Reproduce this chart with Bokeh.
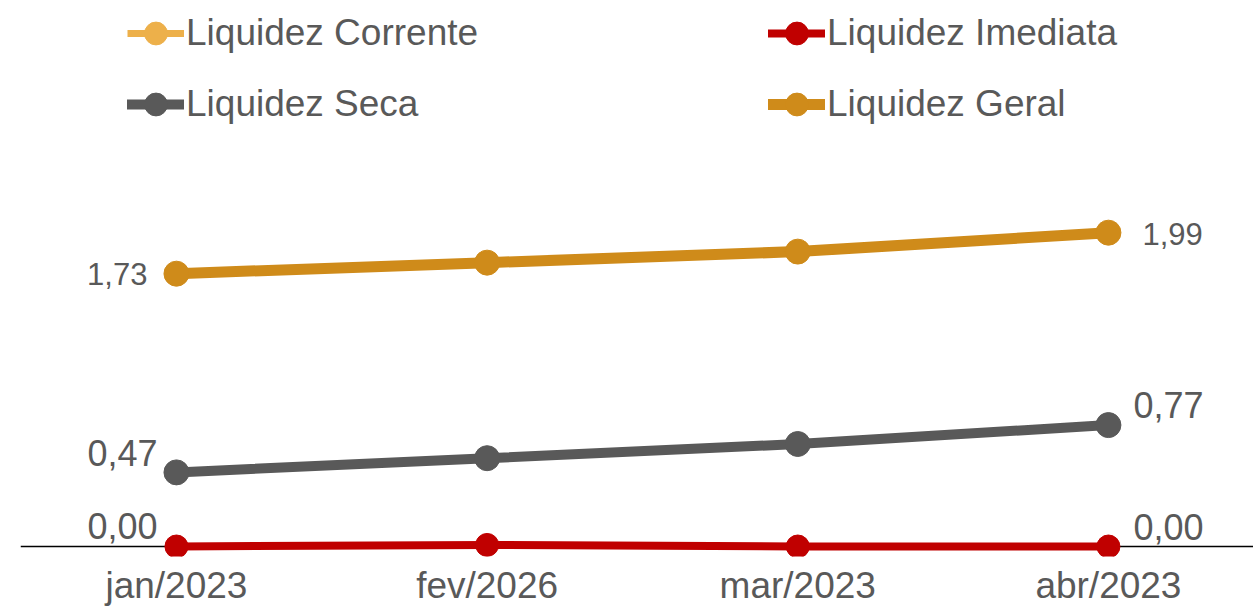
from bokeh.plotting import figure
from bokeh.models import (Range1d, FixedTicker, Span, Legend, LegendItem,
                          ColumnDataSource)
from bokeh.core.properties import value
from bokeh.embed import file_html
from bokeh.resources import INLINE

# ---- data ----
months = ["jan/2023", "fev/2026", "mar/2023", "abr/2023"]
liquidez_corrente = [1.73, 1.80, 1.87, 1.99]
liquidez_imediata = [0.00, 0.01, 0.00, 0.00]
liquidez_seca = [0.47, 0.56, 0.65, 0.77]
liquidez_geral = [1.73, 1.80, 1.87, 1.99]

FONT = "Liberation Sans"
TXT = "#595959"
C_CORR = "#EDB04A"
C_IMED = "#C00000"
C_SECA = "#595959"
C_GERAL = "#CF8B1A"

xs = list(range(len(months)))

p = figure(frame_width=1233, frame_height=556,
           x_range=Range1d(-0.502, 3.467), y_range=Range1d(-0.0634, 3.4623),
           y_axis_location=None, x_axis_location="below",
           output_backend="svg", toolbar_location=None,
           min_border_left=20, min_border_right=0,
           min_border_top=0, min_border_bottom=0)
p.outline_line_color = None
p.xgrid.visible = False
p.ygrid.visible = False
p.background_fill_color = "white"
p.border_fill_color = "white"

zero = Span(location=0, dimension="width", line_color="black",
            line_width=1.5, level="underlay")
p.add_layout(zero)

# series
series = [
    ("Liquidez Corrente", liquidez_corrente, C_CORR, 7, 20, "butt"),
    ("Liquidez Imediata", liquidez_imediata, C_IMED, 8, 23, "round"),
    ("Liquidez Seca", liquidez_seca, C_SECA, 10, 25, "round"),
    ("Liquidez Geral", liquidez_geral, C_GERAL, 11, 25, "round"),
]
items = {}
for name, vals, col, lw, ms, cap in series:
    lr = p.line(xs, vals, line_color=col, line_width=lw, line_cap=cap,
                line_join="round")
    sr = p.scatter(xs, vals, size=ms, fill_color=col, line_color=col)
    items[name] = LegendItem(label=name, renderers=[lr, sr])


def make_legend(its, loc):
    lg = Legend(items=its, location=loc, orientation="vertical",
                glyph_width=57, glyph_height=60, label_height=60,
                label_standoff=2, spacing=11, padding=0, margin=0,
                border_line_color=None, background_fill_alpha=0,
                label_text_font=FONT, label_text_font_size="37px",
                label_text_color=TXT)
    return lg


p.add_layout(make_legend([items["Liquidez Corrente"], items["Liquidez Seca"]], (107, 422)))
p.add_layout(make_legend([items["Liquidez Imediata"], items["Liquidez Geral"]], (748, 422)))

# data labels (first and last point of visible series)
lab_x, lab_y, lab_t, lab_dx, lab_dy, lab_al, lab_fs = [], [], [], [], [], [], []
label_style = {
    "Liquidez Geral": ((-29, 0), (34, 1), "31px"),
    "Liquidez Seca": ((-19, -19), (25, -20), "36px"),
    "Liquidez Imediata": ((-19, -21), (25, -20), "36px"),
}
for name, vals, col, lw, ms, cap in series:
    if name not in label_style:
        continue
    (fdx, fdy), (ldx, ldy), fs = label_style[name]
    for i, dx, dy, al in ((0, fdx, fdy, "right"), (len(vals) - 1, ldx, ldy, "left")):
        lab_x.append(xs[i]); lab_y.append(vals[i])
        lab_t.append(f"{vals[i]:.2f}".replace(".", ","))
        lab_dx.append(dx); lab_dy.append(dy); lab_al.append(al); lab_fs.append(fs)

src = ColumnDataSource(dict(x=lab_x, y=lab_y, t=lab_t, dx=lab_dx, dy=lab_dy,
                            al=lab_al, fs=lab_fs))
p.text(x="x", y="y", text="t", source=src, x_offset="dx", y_offset="dy",
       text_align="al", text_baseline="middle", text_font_size="fs",
       text_font=value(FONT), text_color=TXT)

ax = p.xaxis[0]
ax.ticker = FixedTicker(ticks=xs)
ax.major_label_overrides = {i: m for i, m in zip(xs, months)}
ax.axis_line_color = None
ax.major_tick_line_color = None
ax.minor_tick_line_color = None
ax.major_label_standoff = 2
ax.major_label_text_font = FONT
ax.major_label_text_font_size = "37px"
ax.major_label_text_color = TXT

open("out.html", "w").write(file_html(p, INLINE))
